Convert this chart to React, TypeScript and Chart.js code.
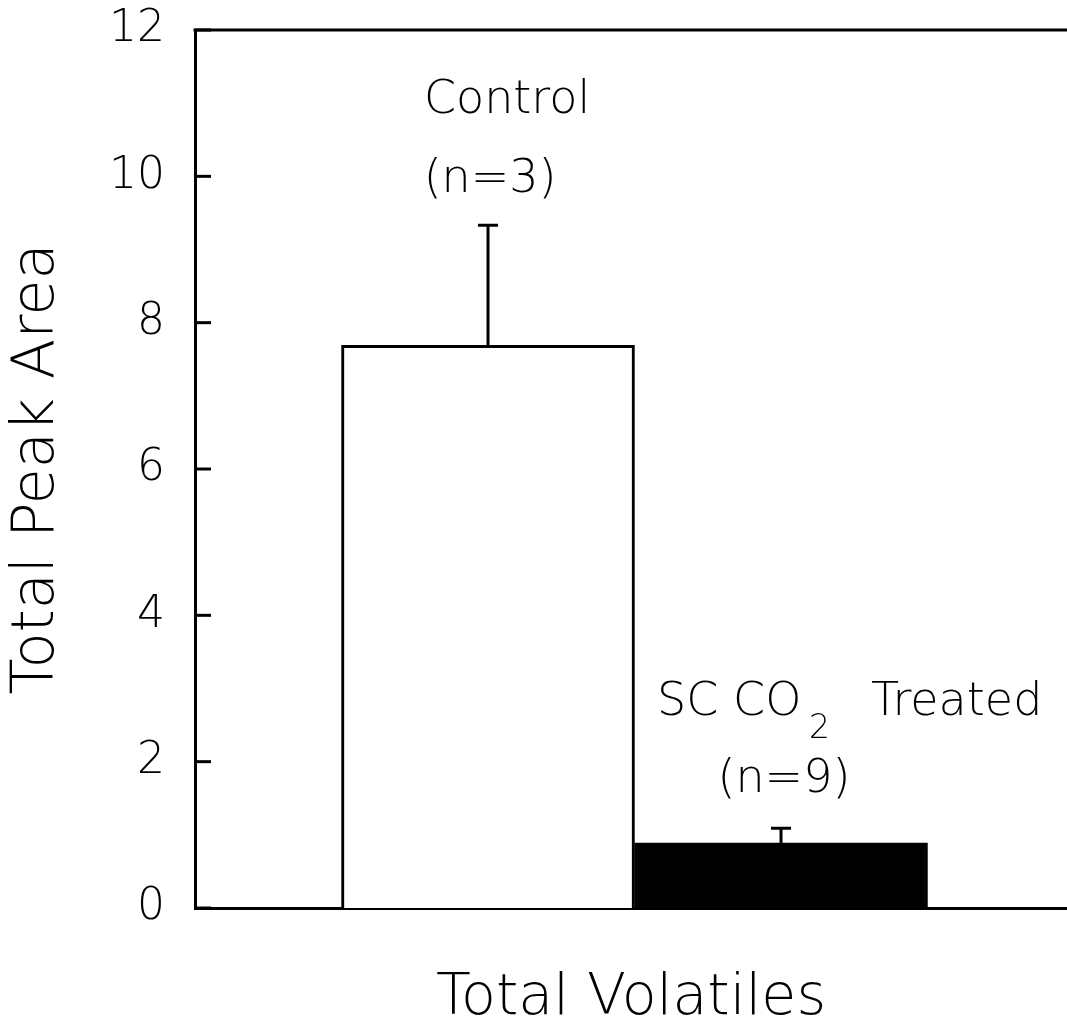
import React, { useEffect, useRef } from "react";
import { Chart, registerables } from "chart.js";

Chart.register(...registerables);

// ---- data ----
const categories = ["Control", "SC CO2 Treated"];
const positions = [1, 2];
const means = [7.69, 0.89];
const errorsUp = [1.64, 0.2];
const sampleSizes = ["(n=3)", "(n=9)"];
const yTicks = [0, 2, 4, 6, 8, 10, 12];
const fillColors = ["#ffffff", "#000000"];
const xTitle = "Total Volatiles";
const yTitle = "Total Peak Area";

const FAMILY = '"DejaVu Sans", sans-serif';
const WEIGHT = "200";

const extrasPlugin = {
  id: "extras",
  afterDatasetsDraw(chart: any) {
    const { ctx, chartArea, scales } = chart;
    const x = scales.x;
    const y = scales.y;
    ctx.save();
    ctx.strokeStyle = "#000";
    ctx.lineCap = "butt";
    ctx.lineWidth = 3;
    // top frame line
    ctx.beginPath();
    ctx.moveTo(chartArea.left - 1.5, chartArea.top);
    ctx.lineTo(chartArea.right, chartArea.top);
    ctx.stroke();
    // inward ticks on y axis
    for (const t of yTicks) {
      const py = y.getPixelForValue(t);
      ctx.beginPath();
      ctx.moveTo(chartArea.left, py);
      ctx.lineTo(chartArea.left + 16, py);
      ctx.stroke();
    }
    // error bars (upper only)
    positions.forEach((p, i) => {
      const px = x.getPixelForValue(p);
      const y0 = y.getPixelForValue(means[i]);
      const y1 = y.getPixelForValue(means[i] + errorsUp[i]);
      ctx.beginPath();
      ctx.moveTo(px, y0);
      ctx.lineTo(px, y1);
      ctx.moveTo(px - 10, y1);
      ctx.lineTo(px + 10, y1);
      ctx.stroke();
    });
    // annotations
    ctx.fillStyle = "#000";
    ctx.textBaseline = "alphabetic";
    const big = `${WEIGHT} 46px ${FAMILY}`;
    const small = `${WEIGHT} 33px ${FAMILY}`;
    ctx.font = big;
    ctx.textAlign = "center";
    ctx.fillText(categories[0], x.getPixelForValue(1.065), y.getPixelForValue(10.865));
    ctx.fillText(sampleSizes[0], x.getPixelForValue(1.007), y.getPixelForValue(9.785));
    ctx.fillText(sampleSizes[1], x.getPixelForValue(2.01), y.getPixelForValue(1.585));
    // SC CO2 Treated with subscript
    const lx = x.getPixelForValue(1.577);
    const by = y.getPixelForValue(2.638);
    ctx.textAlign = "left";
    ctx.fillText("SC CO", lx, by);
    ctx.fillText("Treated", lx + 214, by);
    ctx.font = small;
    ctx.fillText("2", lx + 152, by + 23);
    ctx.restore();
  },
};

export default function App() {
  const canvasRef = useRef<HTMLCanvasElement | null>(null);

  useEffect(() => {
    const canvas = canvasRef.current;
    if (!canvas) return;
    const chart = new Chart(canvas, {
      type: "bar",
      data: {
        datasets: [
          {
            label: "Total Volatiles",
            data: positions.map((p, i) => ({ x: p, y: means[i] })),
            backgroundColor: fillColors,
            borderColor: "#000",
            borderWidth: 3,
            barPercentage: 1,
            categoryPercentage: 1,
          },
        ],
      },
      plugins: [extrasPlugin],
      options: {
        responsive: false,
        animation: false,
        devicePixelRatio: 1,
        layout: { padding: { top: 30, right: 0, left: 0, bottom: 0 } },
        plugins: {
          legend: { display: false },
          tooltip: { enabled: false },
        },
        scales: {
          x: {
            type: "linear",
            offset: false,
            min: 0,
            max: 2.976,
            grid: { display: false, drawTicks: false },
            border: { display: true, color: "#000", width: 3 },
            ticks: { display: false, stepSize: 1, includeBounds: false },
            title: {
              display: true,
              text: xTitle,
              color: "#000",
              font: { family: FAMILY, size: 57, weight: WEIGHT as any, lineHeight: 0.92 },
              padding: { top: 0, bottom: 0 },
            },
            afterFit: (scale: any) => {
              scale.height = 117;
              scale.paddingLeft = 0;
              scale.paddingRight = 0;
            },
          },
          y: {
            min: 0,
            max: 12,
            grid: { display: false, drawTicks: false },
            border: { display: true, color: "#000", width: 3 },
            ticks: {
              stepSize: 2,
              padding: 30,
              color: "#000",
              font: { family: FAMILY, size: 44, weight: WEIGHT as any },
              callback: (v: any) => (yTicks.includes(Number(v)) ? String(v) : ""),
            },
            title: {
              display: true,
              text: yTitle,
              color: "#000",
              font: { family: FAMILY, size: 59, weight: WEIGHT as any, lineHeight: 1.2 },
              padding: { top: 2, bottom: 0 },
            },
            afterFit: (scale: any) => {
              scale.width = 195;
              scale.paddingTop = 0;
              scale.paddingBottom = 0;
            },
          },
        },
      },
    });
    return () => chart.destroy();
  }, []);

  return (
    <div style={{ position: "absolute", left: 0, top: 0, width: 1067, height: 1025, background: "#fff" }}>
      <canvas ref={canvasRef} width={1067} height={1025} style={{ display: "block" }} />
    </div>
  );
}
